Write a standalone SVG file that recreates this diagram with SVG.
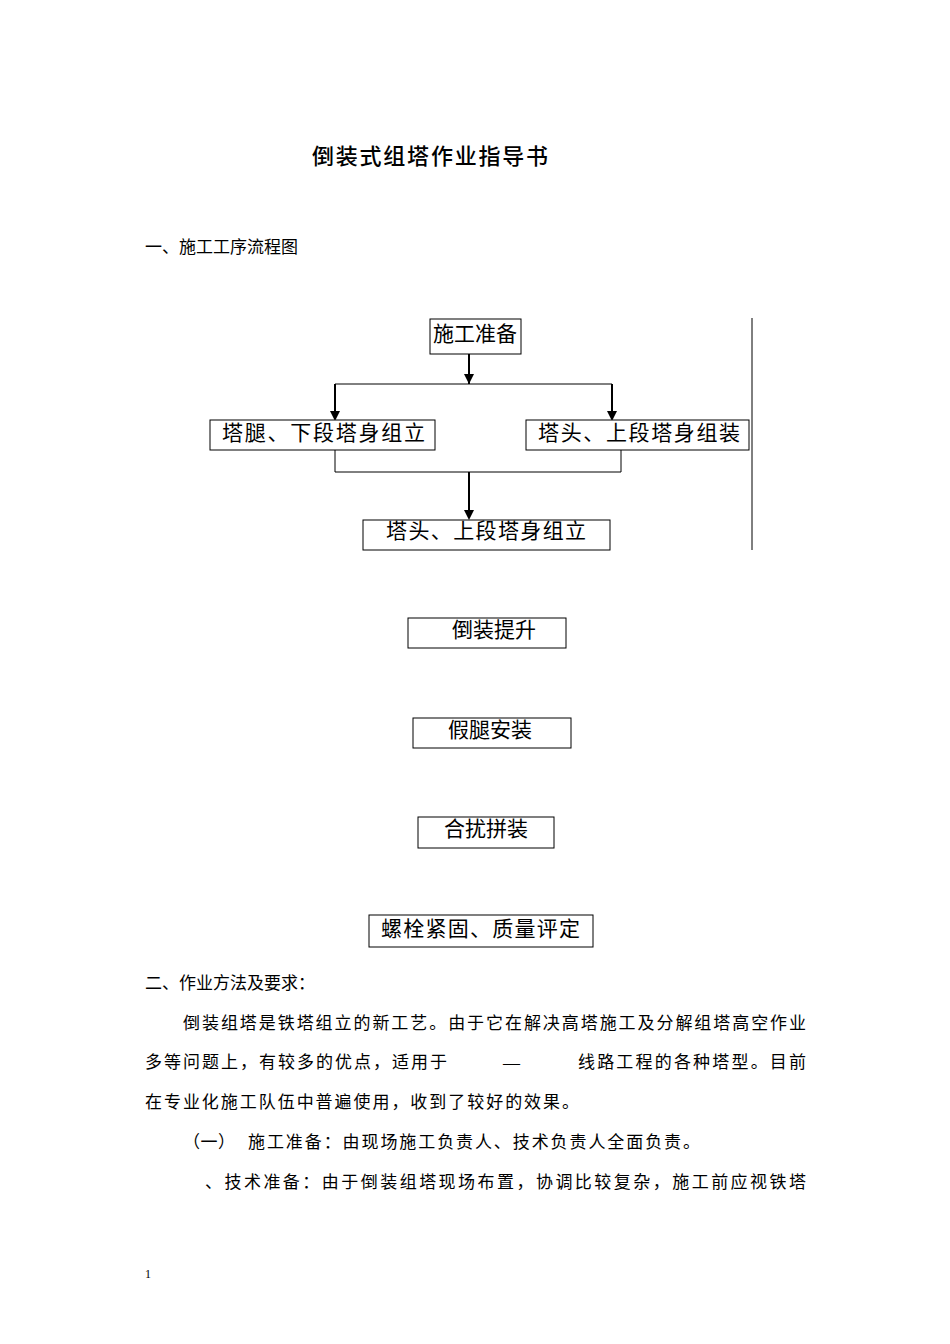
<svg xmlns="http://www.w3.org/2000/svg" width="950" height="1344" viewBox="0 0 950 1344">
<style>
text{font-family:"Liberation Serif","Noto Sans CJK SC",serif;fill:#000}
.b{font-size:21px}
.t{font-size:17px}
rect{fill:#fff;stroke:#000;stroke-width:1}
.c{stroke:#000;stroke-width:1;fill:none}
</style>
<rect x="0" y="0" width="950" height="1344" style="stroke:none"/>
<text x="312" y="164" textLength="236" style="font-family:'Noto Sans CJK SC',sans-serif;font-size:22px;font-weight:500">倒装式组塔作业指导书</text>
<text class="t" x="145" y="253">一、施工工序流程图</text>
<g id="connectors">
<line class="c" x1="752" y1="318" x2="752" y2="550"/>
<path class="c" d="M335,384 H612"/>
<path class="c" d="M335,450 V472 H621 V450"/>
<path d="M469,354 V384" style="stroke:#000;stroke-width:2"/>
<path d="M335,384 V412" style="stroke:#000;stroke-width:2"/>
<path d="M612,384 V412" style="stroke:#000;stroke-width:2"/>
<path d="M469,472 V512" style="stroke:#000;stroke-width:2"/>
<path d="M464,374 L474,374 L469,384 Z"/>
<path d="M330,411 L340,411 L335,421 Z"/>
<path d="M607,411 L617,411 L612,421 Z"/>
<path d="M464,510 L474,510 L469,520 Z"/>
</g>
<g id="n1"><rect x="430" y="319" width="91" height="35"/><text class="b" x="475" y="341" text-anchor="middle">施工准备</text></g>
<g id="n2"><rect x="210" y="420" width="225" height="30"/><text class="b" x="222" y="440" textLength="203">塔腿、下段塔身组立</text></g>
<g id="n3"><rect x="526" y="420" width="223" height="30"/><text class="b" x="538" y="440" textLength="202">塔头、上段塔身组装</text></g>
<g id="n4"><rect x="363" y="520" width="247" height="30"/><text class="b" x="386" y="538" textLength="200">塔头、上段塔身组立</text></g>
<g id="n5"><rect x="408" y="618" width="158" height="30"/><text class="b" x="452" y="637">倒装提升</text></g>
<g id="n6"><rect x="413" y="718" width="158" height="30"/><text class="b" x="448" y="737">假腿安装</text></g>
<g id="n7"><rect x="418" y="817" width="136" height="31"/><text class="b" x="444" y="836">合扰拼装</text></g>
<g id="n8"><rect x="369" y="915" width="224" height="32"/><text class="b" x="381" y="936" textLength="199">螺栓紧固、质量评定</text></g>
<text class="t" x="145" y="989">二、作业方法及要求：</text>
<text class="t" x="183" y="1029" textLength="623">倒装组塔是铁塔组立的新工艺。由于它在解决高塔施工及分解组塔高空作业</text>
<text class="t" x="145" y="1068" textLength="302">多等问题上，有较多的优点，适用于</text>
<text class="t" x="503" y="1068">—</text>
<text class="t" x="578" y="1068" textLength="228">线路工程的各种塔型。目前</text>
<text class="t" x="145" y="1108" textLength="434">在专业化施工队伍中普遍使用，收到了较好的效果。</text>
<text class="t" x="183" y="1148" textLength="52">（一）</text>
<text class="t" x="248" y="1148" textLength="452">施工准备：由现场施工负责人、技术负责人全面负责。</text>
<text class="t" x="205" y="1188" textLength="601">、技术准备：由于倒装组塔现场布置，协调比较复杂，施工前应视铁塔</text>
<text x="145" y="1278" style="font-size:12px">1</text>
</svg>
